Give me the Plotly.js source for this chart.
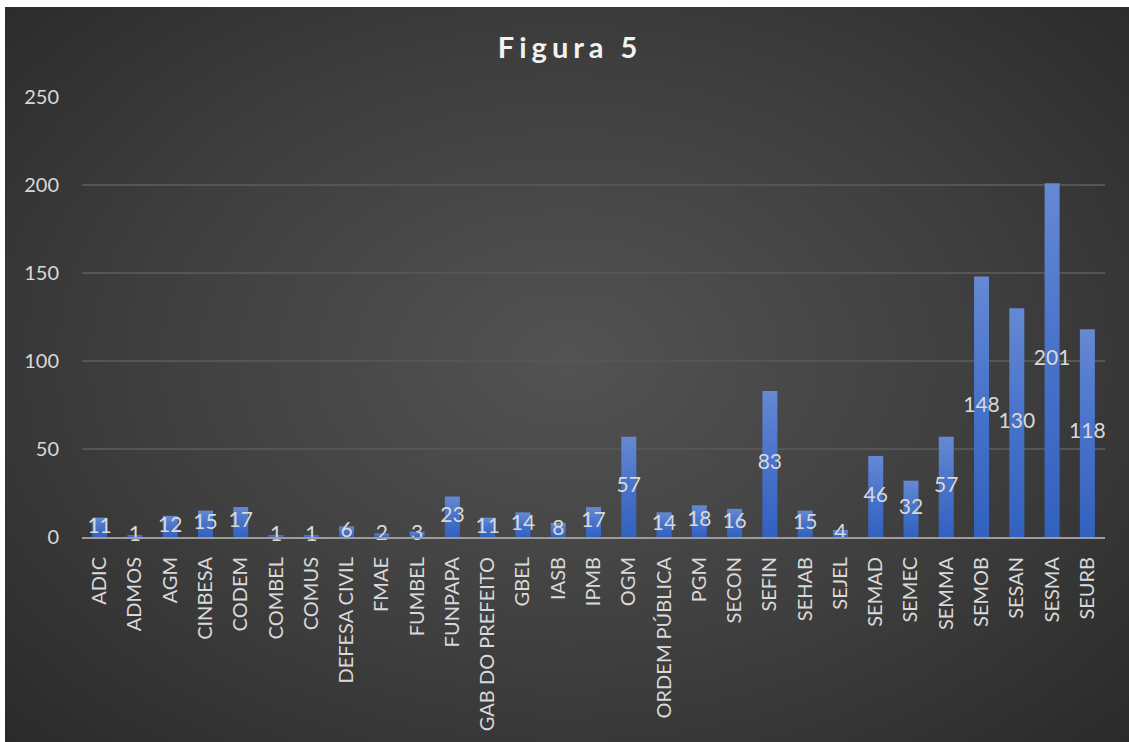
<!DOCTYPE html>
<html>
<head>
<meta charset="utf-8">
<script src="https://cdn.plot.ly/plotly-3.0.1.min.js"></script>
<style>
  html, body { margin: 0; padding: 0; background: #ffffff; }
  #bg {
    position: absolute; left: 5px; top: 7px; width: 1124px; height: 735px;
    background: radial-gradient(ellipse 70% 75% at 50% 48%, #535353 0%, #3e3e3e 55%, #2a2a2a 100%);
  }
  #chart { position: absolute; left: 0; top: 0; width: 1129px; height: 742px; }
  .gtitle { letter-spacing: 5px; }
</style>
</head>
<body>
<div id="bg"></div>
<div id="chart"></div>
<script>
const categories = ["ADIC","ADMOS","AGM","CINBESA","CODEM","COMBEL","COMUS","DEFESA CIVIL","FMAE","FUMBEL","FUNPAPA","GAB DO PREFEITO","GBEL","IASB","IPMB","OGM","ORDEM PÚBLICA","PGM","SECON","SEFIN","SEHAB","SEJEL","SEMAD","SEMEC","SEMMA","SEMOB","SESAN","SESMA","SEURB"];
const values = [11,1,12,15,17,1,1,6,2,3,23,11,14,8,17,57,14,18,16,83,15,4,46,32,57,148,130,201,118];
const yTicks = [0,50,100,150,200,250];

const textColor = "#d9d9d9";
const fontFam = "Lato, 'Open Sans', sans-serif";

const bars = {
  type: "bar",
  x: categories,
  y: values,
  marker: { color: "#4a74c9", line: { width: 0 } },
  hoverinfo: "skip"
};
const labels = {
  type: "scatter",
  mode: "text",
  x: categories,
  y: values.map(v => v / 2),
  text: values.map(String),
  textposition: "middle center",
  textfont: { family: fontFam, size: 21, color: textColor },
  hoverinfo: "skip",
  cliponaxis: false
};

const layout = {
  width: 1129, height: 742,
  paper_bgcolor: "rgba(0,0,0,0)",
  plot_bgcolor: "rgba(0,0,0,0)",
  margin: { l: 81.5, r: 23.5, t: 97, b: 205 },
  showlegend: false,
  bargap: 0.575,
  title: {
    text: "<b>Figura 5</b>",
    x: 0.505, xanchor: "center",
    y: 0.935, yanchor: "middle",
    font: { family: fontFam, size: 29, color: "#f2f2f2" }
  },
  xaxis: {
    type: "category",
    range: [-0.5, categories.length - 0.5],
    automargin: false,
    tickangle: -90,
    tickfont: { family: fontFam, size: 20, color: textColor },
    showgrid: false,
    ticks: "",
    showline: true, linecolor: "#9c9c9c", linewidth: 2,
    ticklabelstandoff: 10,
    fixedrange: true
  },
  yaxis: {
    range: [0, 250],
    automargin: false,
    tickvals: yTicks,
    ticktext: yTicks.map(String),
    tickfont: { family: fontFam, size: 20, color: textColor },
    showgrid: true, gridcolor: "#555555", gridwidth: 1.5,
    zeroline: false,
    ticks: "",
    showline: false,
    ticklabelstandoff: 22,
    fixedrange: true
  }
};

Plotly.newPlot("chart", [bars, labels], layout, { displayModeBar: false, staticPlot: true }).then(gd => {
  const svg = gd.querySelector("svg.main-svg");
  const ns = "http://www.w3.org/2000/svg";
  let defs = svg.querySelector("defs");
  if (!defs) { defs = document.createElementNS(ns, "defs"); svg.insertBefore(defs, svg.firstChild); }
  const lg = document.createElementNS(ns, "linearGradient");
  lg.setAttribute("id", "barGrad");
  lg.setAttribute("x1", "0"); lg.setAttribute("y1", "0");
  lg.setAttribute("x2", "0"); lg.setAttribute("y2", "1");
  [["0%", "#6589d3"], ["45%", "#4a74cb"], ["100%", "#3261bf"]].forEach(([o, c]) => {
    const s = document.createElementNS(ns, "stop");
    s.setAttribute("offset", o); s.setAttribute("stop-color", c);
    lg.appendChild(s);
  });
  defs.appendChild(lg);
  gd.querySelectorAll(".bars .point path").forEach(p => { p.style.fill = "url(#barGrad)"; });
});
</script>
</body>
</html>
